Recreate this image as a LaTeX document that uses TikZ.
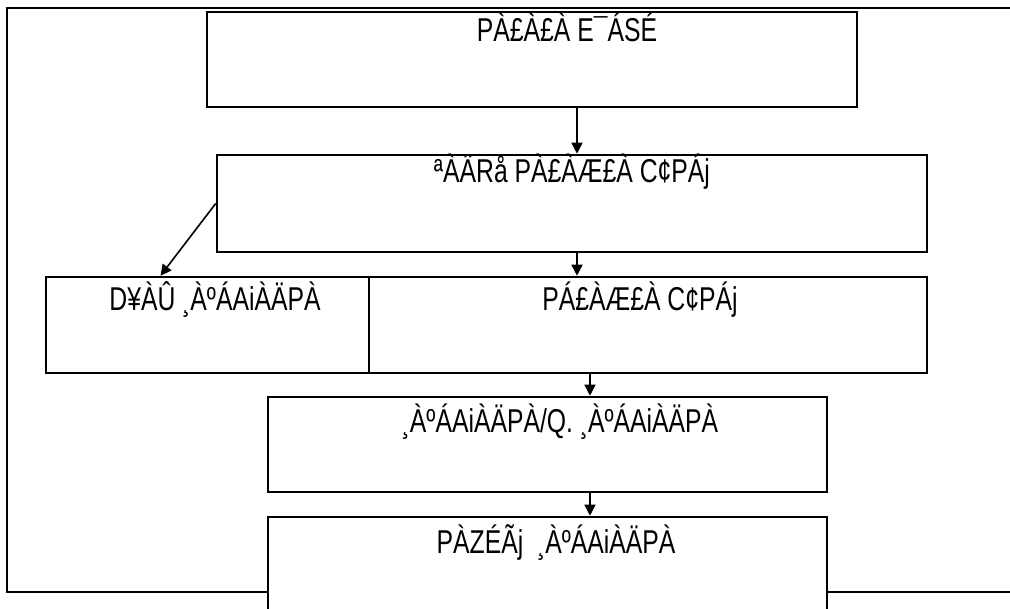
\documentclass[tikz,border=0pt]{standalone}
\usepackage{fontspec}
\setmainfont{Liberation Sans}[FakeStretch=0.75]
\usetikzlibrary{arrows.meta}

\begin{document}
\begin{tikzpicture}[x=1pt, y=-1pt,
  box/.style={draw, line width=2.6pt, fill=white, inner sep=0pt},
  lbl/.style={anchor=base, inner sep=0pt, font=\fontsize{33}{38}\selectfont},
  arr/.style={line width=1.6pt, -{Triangle[length=11pt,width=11pt]}}]
\useasboundingbox (0,0) rectangle (1010,609);
\clip (0,0) rectangle (1010,609);
% outer frame
\draw[line width=2.6pt] (1030,8) -- (7,8) -- (7,592) -- (1030,592);
% boxes
\node[box, minimum width=650, minimum height=95] (dept) at (532,59.5) {};
\node[box, minimum width=710, minimum height=97] (chief) at (572,203.5) {};
\node[box, minimum width=323, minimum height=96] (pa) at (207.5,325) {};
\node[box, minimum width=558, minimum height=96] (officer) at (648,325) {};
\node[box, minimum width=559, minimum height=95] (asst) at (547.5,444.5) {};
\node[box, minimum width=559, minimum height=113] (clerk) at (547.5,573.5) {};
% texts
\node[lbl] (deptT) at (567,42) {PÀ£À£À E¯ÁSÉ};
\node[lbl] (chiefT) at (572,183) {ªÀÄRå PÀ£ÀÆ£À C¢PÁj};
\node[lbl] (paT) at (215,311) {D¥ÀÛ ¸ÀºÁAiÀÄPÀ};
\node[lbl] (officerT) at (640,311) {PÁ£ÀÆ£À C¢PÁj};
\node[lbl] (asstT) at (560,433) {¸ÀºÁAiÀÄPÀ/Q. ¸ÀºÁAiÀÄPÀ};
\node[lbl] (clerkT) at (556,553) {PÀZÉÃj\ \ ¸ÀºÁAiÀÄPÀ};
% arrows
\draw[arr] ([xshift=45pt]dept.south) -- ([xshift=5pt]chief.north);
\draw[arr] ([xshift=5pt]chief.south) -- ([xshift=-71pt]officer.north);
\draw[arr] (chief.west) -- ([xshift=-47pt]pa.north);
\draw[arr] ([xshift=42.5pt]officer.south -| asst.north) -- ([xshift=42.5pt]asst.north);
\draw[arr] ([xshift=42.5pt]asst.south) -- ([xshift=42.5pt]clerk.north);
\end{tikzpicture}
\end{document}
